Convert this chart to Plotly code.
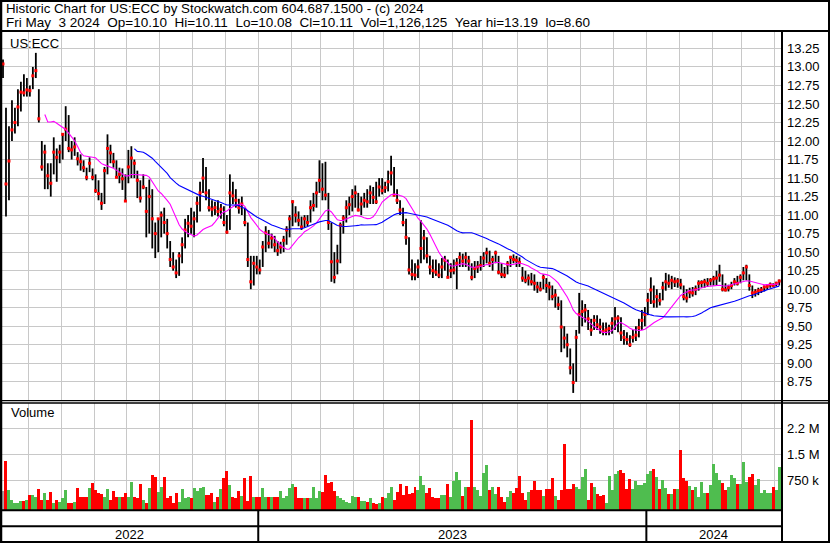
import numpy as np
import pandas as pd
import plotly.graph_objects as go

# ---------------- data ----------------
TITLE1 = "Historic Chart for US:ECC by Stockwatch.com 604.687.1500 - (c) 2024"
TITLE2 = "Fri May  3 2024  Op=10.10  Hi=10.11  Lo=10.08  Cl=10.11  Vol=1,126,125  Year hi=13.19  lo=8.60"
SYMBOL = "US:ECC"
START_DATE = "2022-05-06"

HIGH = [
13.10,12.45,12.20,12.55,12.45,12.70,12.80,12.90,12.85,12.75,
13.00,13.19,12.70,12.00,11.95,11.70,11.70,12.05,11.90,11.95,
12.10,12.47,12.35,12.00,12.05,11.85,11.82,11.74,11.64,11.78,
11.63,11.55,11.47,11.30,11.65,12.09,11.95,11.84,11.74,11.64,
11.63,11.55,11.88,11.93,11.75,11.60,11.47,11.55,11.38,11.48,
11.35,10.90,10.95,11.05,11.10,10.95,10.65,10.50,10.40,10.50,
10.70,10.95,11.00,11.10,11.05,11.25,11.45,11.77,11.65,11.35,
11.20,11.18,11.20,11.15,11.12,11.00,11.55,11.45,11.35,11.22,
11.25,11.10,10.90,10.45,10.45,10.45,10.40,10.65,10.85,10.80,
10.75,10.72,10.65,10.64,10.72,10.85,11.00,11.20,11.12,11.05,
10.98,11.00,11.00,11.20,11.30,11.45,11.74,11.70,11.72,11.30,
10.90,10.50,10.60,10.90,11.00,11.20,11.25,11.35,11.40,11.30,
11.25,11.30,11.35,11.40,11.38,11.45,11.50,11.50,11.45,11.60,
11.80,11.65,11.35,11.20,11.10,10.95,10.70,10.40,10.35,10.40,
10.93,10.80,10.70,10.45,10.40,10.40,10.35,10.42,10.45,10.40,
10.35,10.40,10.42,10.50,10.48,10.50,10.45,10.35,10.38,10.38,
10.45,10.50,10.56,10.52,10.45,10.52,10.45,10.35,10.30,10.38,
10.45,10.47,10.45,10.43,10.30,10.25,10.20,10.22,10.20,10.10,
10.10,10.20,10.15,10.10,10.05,10.00,9.90,9.85,9.50,9.40,
9.20,9.00,9.45,9.95,9.85,9.80,9.72,9.60,9.65,9.65,
9.60,9.55,9.55,9.52,9.62,9.76,9.65,9.62,9.45,9.42,
9.38,9.45,9.50,9.60,9.72,9.76,9.95,10.16,10.05,10.00,
9.95,10.10,10.22,10.20,10.18,10.16,10.15,10.14,10.05,10.00,
10.02,10.03,10.05,10.12,10.12,10.14,10.15,10.15,10.18,10.25,
10.33,10.20,10.08,10.06,10.10,10.15,10.18,10.20,10.30,10.33,
10.20,10.05,10.00,10.02,10.03,10.05,10.07,10.09,10.08,10.10,
10.13]

LOW = [
12.85,10.98,11.20,12.00,12.10,12.20,12.40,12.60,12.60,12.60,
12.70,12.85,12.25,11.60,11.35,11.35,11.25,11.55,11.45,11.70,
11.75,12.00,11.85,11.75,11.80,11.67,11.60,11.58,11.47,11.58,
11.47,11.30,11.20,11.07,11.15,11.55,11.70,11.64,11.51,11.43,
11.34,11.18,11.43,11.50,11.50,11.23,11.17,11.35,10.70,10.75,
10.55,10.42,10.50,10.70,10.75,10.55,10.30,10.25,10.15,10.18,
10.35,10.55,10.70,10.75,10.70,10.90,11.05,11.30,11.20,11.05,
10.98,11.00,10.98,10.95,10.85,10.75,10.80,11.15,11.10,11.02,
11.00,10.85,10.30,10.00,10.05,10.20,10.20,10.30,10.50,10.55,
10.55,10.50,10.45,10.48,10.50,10.60,10.70,10.85,10.90,10.85,
10.80,10.83,10.85,10.90,11.05,11.10,11.30,11.20,11.20,10.80,
10.10,10.08,10.20,10.35,10.75,10.90,11.00,11.05,11.10,11.05,
11.00,11.10,11.10,11.15,11.15,11.15,11.25,11.28,11.30,11.32,
11.40,11.25,11.15,11.00,10.85,10.60,10.20,10.12,10.12,10.15,
10.35,10.40,10.35,10.20,10.15,10.18,10.15,10.15,10.25,10.15,
10.15,10.20,10.00,10.30,10.30,10.30,10.25,10.12,10.15,10.22,
10.25,10.30,10.35,10.30,10.25,10.35,10.20,10.15,10.15,10.20,
10.30,10.35,10.30,10.30,10.10,10.08,10.05,10.05,9.98,9.95,
9.97,10.00,9.95,9.85,9.85,9.75,9.72,9.15,9.20,9.08,
8.85,8.60,8.75,9.40,9.50,9.55,9.45,9.37,9.45,9.45,
9.40,9.38,9.38,9.38,9.40,9.45,9.42,9.30,9.25,9.25,
9.22,9.28,9.30,9.35,9.45,9.50,9.65,9.80,9.75,9.75,
9.78,9.85,9.98,10.02,10.00,10.03,10.02,10.00,9.85,9.82,
9.88,9.90,9.92,9.98,10.02,10.02,10.03,10.05,10.05,10.05,
10.10,9.97,9.97,9.97,10.00,10.05,10.05,10.08,10.12,10.12,
9.98,9.88,9.90,9.92,9.95,9.97,9.99,10.02,10.03,10.04,
10.05]

CLOSE = [
13.04,11.42,11.73,12.15,12.25,12.46,12.66,12.65,12.69,12.68,
12.88,12.95,12.30,11.65,11.85,11.53,11.43,11.85,11.78,11.85,
12.09,12.16,11.90,11.88,11.92,11.76,11.72,11.64,11.51,11.70,
11.51,11.33,11.29,11.16,11.60,11.90,11.84,11.72,11.51,11.55,
11.49,11.19,11.65,11.77,11.70,11.47,11.23,11.38,11.05,11.25,
10.95,10.75,10.95,11.00,10.90,10.75,10.40,10.30,10.22,10.45,
10.60,10.80,10.89,10.85,10.95,11.16,11.30,11.50,11.30,11.10,
11.08,11.10,11.05,11.08,10.90,10.77,11.30,11.26,11.20,11.10,
11.15,10.90,10.40,10.10,10.35,10.30,10.26,10.57,10.76,10.62,
10.69,10.60,10.52,10.57,10.66,10.80,10.95,11.18,11.00,10.93,
10.84,10.95,10.90,11.10,11.13,11.30,11.47,11.35,11.27,10.90,
10.37,10.16,10.38,10.86,10.96,11.10,11.14,11.25,11.30,11.07,
11.15,11.20,11.18,11.30,11.24,11.18,11.38,11.33,11.37,11.45,
11.57,11.27,11.20,11.07,10.90,10.70,10.26,10.20,10.19,10.30,
10.55,10.69,10.45,10.30,10.25,10.23,10.19,10.30,10.39,10.16,
10.25,10.26,10.35,10.43,10.38,10.43,10.38,10.16,10.28,10.30,
10.32,10.42,10.49,10.35,10.40,10.49,10.23,10.20,10.19,10.34,
10.43,10.40,10.39,10.36,10.15,10.12,10.15,10.10,10.08,10.03,
10.00,10.16,10.05,10.03,9.90,9.92,9.79,9.49,9.34,9.25,
8.94,8.74,9.35,9.66,9.70,9.72,9.60,9.45,9.58,9.52,
9.49,9.43,9.45,9.47,9.54,9.60,9.61,9.41,9.35,9.32,
9.25,9.35,9.38,9.48,9.58,9.66,9.85,9.99,9.83,9.90,
9.85,10.02,10.10,10.08,10.12,10.10,10.11,10.06,9.90,9.88,
9.96,9.95,10.00,10.08,10.09,10.10,10.08,10.12,10.14,10.15,
10.19,10.00,9.99,10.02,10.05,10.10,10.08,10.16,10.22,10.30,
10.05,9.95,9.96,9.98,9.99,10.03,10.04,10.06,10.05,10.08,
10.11]

VOLUME_K = [
433,1298,462,173,77,77,144,144,173,317,
317,250,490,173,385,173,414,77,173,125,
221,462,77,77,125,529,269,269,269,510,
654,462,365,346,269,490,173,433,250,250,
250,365,250,692,250,221,625,173,77,510,
894,846,414,558,827,240,289,77,365,125,
481,221,269,221,529,433,510,558,317,317,
385,125,250,481,798,1010,606,269,240,433,
289,817,144,866,250,269,269,510,269,250,
250,250,250,433,221,289,529,625,558,240,
221,221,221,240,558,221,433,414,894,654,
702,433,289,221,173,106,77,289,269,250,
154,154,125,240,77,58,77,269,221,365,
558,173,414,635,317,577,346,365,558,462,
866,606,365,510,269,221,221,317,317,625,
250,731,971,750,289,558,558,2481,558,462,
289,942,1183,462,539,346,539,269,125,269,
442,385,529,866,365,173,414,462,731,462,
462,289,481,481,798,289,173,462,1789,481,
481,635,558,481,827,1067,173,673,558,346,
289,317,77,866,462,914,1010,1039,962,481,
769,481,731,606,606,654,923,1019,1067,827,
481,750,510,346,337,481,481,1616,798,731,
577,462,558,269,702,365,365,606,1212,962,
750,673,462,558,894,798,635,635,1279,702,
846,923,606,769,365,462,385,365,539,462,
1126]

PRICE_TICKS = [8.75, 9.00, 9.25, 9.50, 9.75, 10.00, 10.25, 10.50, 10.75, 11.00,
               11.25, 11.50, 11.75, 12.00, 12.25, 12.50, 12.75, 13.00, 13.25]
VOL_TICKS_K = [750, 1500, 2250]
VOL_TICK_TEXT = ["750 k", "1.5 M", "2.2 M"]
MA_FAST, MA_SLOW = 15, 45   # bars (two trading days per bar)

# ---------------- layout helpers ----------------
W, H = 830, 543
FONT = "Liberation Sans, Arial, Helvetica, sans-serif"
GRID = "#c8c8c8"
GREEN, RED, GRAY = "#4fbd4f", "#ff0000", "#a8a8a8"


def fx(px):
    return px / W


def fy(py):
    return 1 - py / H


N = len(CLOSE)
dates = pd.bdate_range(START_DATE, periods=2 * N - 1)[::2]
idx = np.arange(N)
month_bounds = [i - 0.5 for i in range(1, N) if dates[i].month != dates[i - 1].month]
year_bounds = [i - 0.5 for i in range(1, N) if dates[i].year != dates[i - 1].year]
X_RANGE = [-1.005, N - 1 + 0.6]
VOL_FLOOR = -115

close_s = pd.Series(CLOSE)
ma_fast = close_s.rolling(MA_FAST).mean()
ma_slow = close_s.rolling(MA_SLOW).mean()

vol_colors = [GRAY]
for i in range(1, N):
    d = round(CLOSE[i] - CLOSE[i - 1], 4)
    vol_colors.append(GREEN if d > 0 else (RED if d < 0 else GRAY))

fig = go.Figure()

# high-low bars
bx, by = [], []
for i in range(N):
    bx += [i, i, None]
    by += [LOW[i], HIGH[i], None]
fig.add_trace(go.Scatter(x=bx, y=by, mode="lines", line=dict(color="black", width=1.8),
                         xaxis="x", yaxis="y", hoverinfo="skip"))
# close ticks
fig.add_trace(go.Scatter(x=idx, y=CLOSE, mode="markers",
                         marker=dict(symbol="square", size=3, color=RED, line=dict(width=0)),
                         xaxis="x", yaxis="y", hoverinfo="skip"))
# moving averages
fig.add_trace(go.Scatter(x=idx, y=ma_fast, mode="lines", line=dict(color="#ff00ff", width=1.1),
                         xaxis="x", yaxis="y", hoverinfo="skip"))
fig.add_trace(go.Scatter(x=idx, y=ma_slow, mode="lines", line=dict(color="#0000ff", width=1.1),
                         xaxis="x", yaxis="y", hoverinfo="skip"))
# volume
fig.add_trace(go.Bar(x=idx, y=np.array(VOLUME_K) - VOL_FLOOR, base=VOL_FLOOR, width=1.0,
                     marker=dict(color=vol_colors, line=dict(width=0)),
                     xaxis="x2", yaxis="y2", hoverinfo="skip"))

xcommon = dict(range=X_RANGE, tickvals=month_bounds, showticklabels=False, ticks="",
               showgrid=True, gridcolor=GRID, gridwidth=1, zeroline=False, showline=False,
               fixedrange=True)
tickfont = dict(family=FONT, size=13, color="black")

shapes = []


def hline(py, x0=0, x1=W, w=2):
    shapes.append(dict(type="line", xref="paper", yref="paper", x0=fx(x0), x1=fx(x1),
                       y0=fy(py), y1=fy(py), line=dict(color="black", width=w)))


def vline(px, y0, y1, w=2):
    shapes.append(dict(type="line", xref="paper", yref="paper", x0=fx(px), x1=fx(px),
                       y0=fy(y0), y1=fy(y1), line=dict(color="black", width=w)))


hline(1)
hline(31)
hline(400.6, 0, W, 1.3)
hline(403.0, 0, W, 1.3)
hline(510.3, 0, 782)
hline(526.3, 0, 782)
hline(542)
vline(1, 0, H, 2.5)
vline(829, 0, H)
vline(782, 31, H)
for b in year_bounds:
    shapes.append(dict(type="line", xref="x", yref="paper", x0=b, x1=b,
                       y0=fy(542), y1=fy(510), line=dict(color="black", width=2)))

annotations = [
    dict(text=TITLE1.replace("  ", " \u00a0"), x=fx(4), y=fy(9), xref="paper", yref="paper",
         xanchor="left", yanchor="middle", showarrow=False, font=dict(family=FONT, size=13.3, color="black")),
    dict(text=TITLE2.replace("  ", " \u00a0"), x=fx(4), y=fy(22.5), xref="paper", yref="paper",
         xanchor="left", yanchor="middle", showarrow=False, font=dict(family=FONT, size=13.5, color="black")),
    dict(text=SYMBOL, x=fx(8), y=fy(43), xref="paper", yref="paper",
         xanchor="left", yanchor="middle", showarrow=False, font=dict(family=FONT, size=13, color="black")),
    dict(text="Volume", x=fx(9), y=fy(413), xref="paper", yref="paper",
         xanchor="left", yanchor="middle", showarrow=False, font=dict(family=FONT, size=13, color="black")),
]
edges = [X_RANGE[0]] + year_bounds + [X_RANGE[1]]
for k in range(len(edges) - 1):
    yr = dates[int(np.ceil(edges[k] + 0.5)) if k > 0 else 0].year
    annotations.append(dict(text=str(yr), x=(edges[k] + edges[k + 1]) / 2, y=fy(534),
                            xref="x", yref="paper", xanchor="center", yanchor="middle",
                            showarrow=False, font=dict(family=FONT, size=13, color="black")))

fig.update_layout(
    width=W, height=H, margin=dict(l=0, r=0, t=0, b=0, pad=0),
    paper_bgcolor="white", plot_bgcolor="white", showlegend=False, hovermode=False,
    bargap=0,
    xaxis=dict(domain=[0, fx(781)], anchor="y", **xcommon),
    xaxis2=dict(domain=[0, fx(781)], anchor="y2", matches="x", **xcommon),
    yaxis=dict(domain=[fy(401), fy(31)], range=[8.491, 13.485], anchor="x", side="right",
               tickvals=PRICE_TICKS, ticktext=[f"{v:.2f}" for v in PRICE_TICKS],
               showgrid=True, gridcolor=GRID, gridwidth=1, zeroline=False, showline=False,
               ticks="", tickfont=tickfont, ticklabelstandoff=5, fixedrange=True),
    yaxis2=dict(domain=[fy(510), fy(403)], range=[VOL_FLOOR, 2971], anchor="x2", side="right",
                tickvals=VOL_TICKS_K, ticktext=VOL_TICK_TEXT,
                showgrid=True, gridcolor=GRID, gridwidth=1, zeroline=False, showline=False,
                ticks="", tickfont=tickfont, ticklabelstandoff=5, fixedrange=True),
    shapes=shapes, annotations=annotations,
)

fig.write_html("out.html", config={"displayModeBar": False},
               post_script="document.body.style.margin='0px';document.body.style.overflow='hidden';")
